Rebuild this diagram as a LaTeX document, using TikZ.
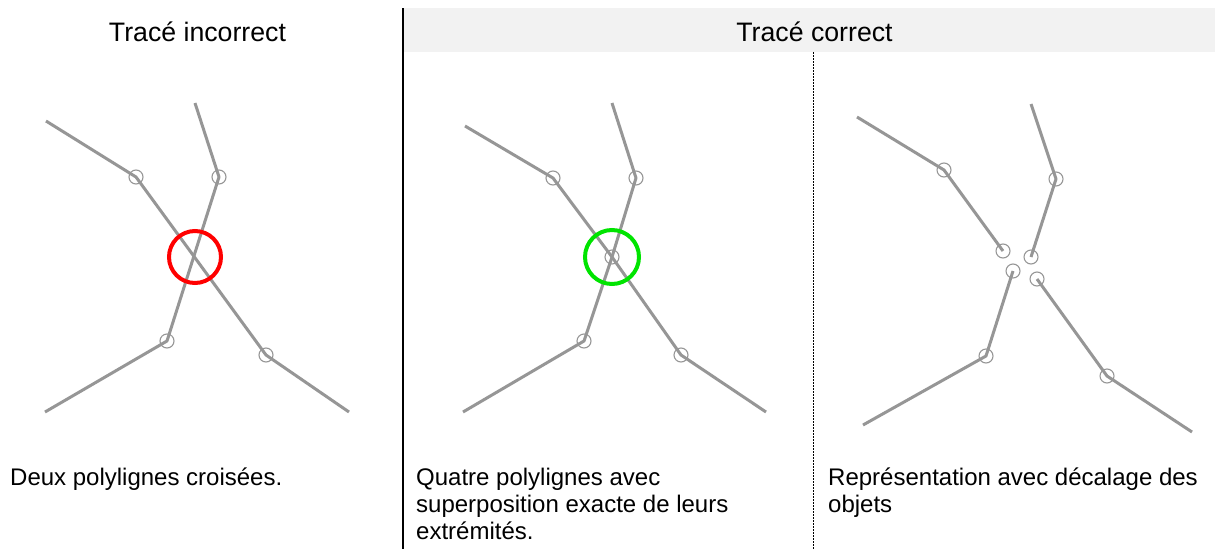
\documentclass[tikz,border=0pt]{standalone}
\usepackage{fontspec}
\setmainfont{Liberation Sans}
\definecolor{polygray}{RGB}{150,150,150}
\definecolor{headgray}{RGB}{242,242,242}
\definecolor{okgreen}{RGB}{0,228,0}
\begin{document}
\begin{tikzpicture}[x=1pt,y=-1pt,
  poly/.style={draw=polygray,line width=3pt,line join=round},
  vtx/.style={circle,draw=polygray,line width=1.1pt,minimum size=14pt,inner sep=0pt},
  ring/.style={circle,line width=4pt,minimum size=52pt,inner sep=0pt},
  caption/.style={anchor=base west,align=left,font=\fontsize{24}{27}\selectfont,inner sep=0pt},
  header/.style={anchor=base,font=\fontsize{26.7}{30}\selectfont,inner sep=0pt},
  solidsep/.style={draw=black,line width=2pt},
  dashsep/.style={draw=black,line width=0.8pt,dash pattern=on 2pt off 1pt}]
\useasboundingbox (0,0) rectangle (1215,549);
% header band
\fill[headgray] (404,8) rectangle (1215,52);
\node[header] (h1) at (197.5,41) {Tracé incorrect};
\node[header] (h2) at (814.5,41) {Tracé correct};
% separators
\coordinate (s1t) at (403,8);
\coordinate (s1b) at (403,549);
\coordinate (s2t) at (813,52);
\coordinate (s2b) at (813,549);
\draw[solidsep] (s1t) -- (s1b);
\draw[dashsep] (s2t) -- (s2b);
% ---------- panel 1 ----------
\coordinate (a1) at (46,121);
\coordinate (a2) at (136,177);
\coordinate (a3) at (266,355);
\coordinate (a4) at (349,412);
\coordinate (b1) at (195,103);
\coordinate (b2) at (219,177);
\coordinate (b3) at (167,341);
\coordinate (b4) at (45,412);
\draw[poly] (a1) -- (a2) -- (a3) -- (a4);
\draw[poly] (b1) -- (b2) -- (b3) -- (b4);
\foreach \p in {a2,a3,b2,b3} \node[vtx] (v\p) at (\p) {};
\node[ring,draw=red] (err) at (195,257) {};
% ---------- panel 2 ----------
\coordinate (c1) at (465,126);
\coordinate (c2) at (553,178);
\coordinate (m) at (612,257);
\coordinate (c3) at (681,355);
\coordinate (c4) at (766,412);
\coordinate (d1) at (612,103);
\coordinate (d2) at (636,178);
\coordinate (d3) at (584,341);
\coordinate (d4) at (463,412);
\draw[poly] (c1) -- (c2) -- (m);
\draw[poly] (m) -- (c3) -- (c4);
\draw[poly] (d1) -- (d2) -- (m);
\draw[poly] (m) -- (d3) -- (d4);
\foreach \p in {c2,c3,d2,d3,m} \node[vtx] (v\p) at (\p) {};
\node[ring,draw=okgreen,minimum size=54pt] (ok) at (m) {};
% ---------- panel 3 ----------
\coordinate (e1) at (857,117);
\coordinate (e2) at (944,170);
\coordinate (e3) at (1003,251);
\coordinate (f1) at (1031,104);
\coordinate (f2) at (1056,179);
\coordinate (f3) at (1031,257);
\coordinate (g1) at (1013,271);
\coordinate (g2) at (986,356);
\coordinate (g3) at (863,425);
\coordinate (k1) at (1037,279);
\coordinate (k2) at (1107,376);
\coordinate (k3) at (1192,432);
\draw[poly] (e1) -- (e2) -- (e3);
\draw[poly] (f1) -- (f2) -- (f3);
\draw[poly] (g1) -- (g2) -- (g3);
\draw[poly] (k1) -- (k2) -- (k3);
\foreach \p in {e2,e3,f2,f3,g1,g2,k1,k2} \node[vtx] (v\p) at (\p) {};
% ---------- captions (base = baseline of last line) ----------
\node[caption] (t1) at (10,485) {Deux polylignes croisées.};
\node[caption] (t2) at (416,539) {Quatre polylignes avec\\superposition exacte de leurs\\extrémités.};
\node[caption] (t3) at (828,512) {Représentation avec décalage des\\objets};
\end{tikzpicture}
\end{document}
